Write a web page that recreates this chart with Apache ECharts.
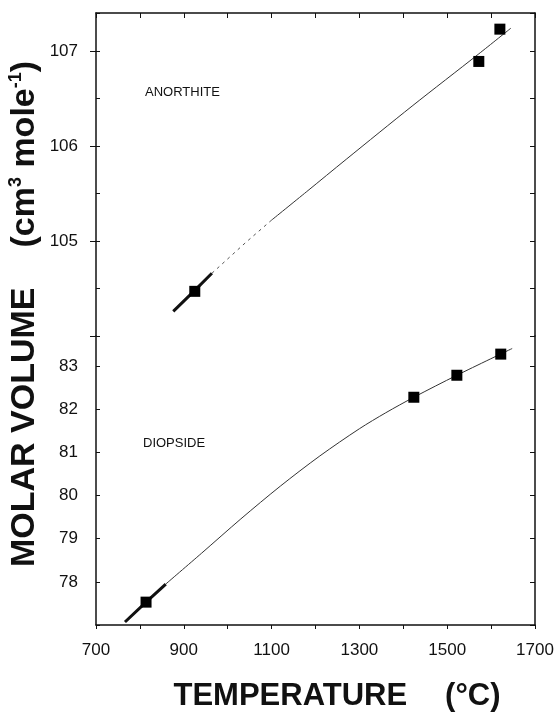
<!DOCTYPE html>
<html>
<head>
<meta charset="utf-8">
<script src="https://cdn.jsdelivr.net/npm/echarts@6/dist/echarts.min.js"></script>
<style>
html,body{margin:0;padding:0;background:#fff;}
#chart{width:559px;height:713px;}
</style>
</head>
<body>
<div id="chart"></div>
<script>
// ---- data (temperature °C, molar volume cm3/mol) ----
const anorthitePoints = [[925, 104.47], [1572, 106.89], [1620, 107.23]];
const anorthiteThick = [[876, 104.26], [925, 104.48], [964, 104.66]];
const anorthiteFaint = [[964, 104.66], [1040, 104.98], [1100, 105.22]];
const anorthiteFit = [[1100, 105.22], [1180, 105.52], [1270, 105.86], [1420, 106.42], [1572, 106.97], [1645, 107.24]];

const diopsidePoints = [[814, 77.53], [1424, 82.28], [1522, 82.79], [1622, 83.28]];
const diopsideThick = [[766, 77.07], [814, 77.53], [859, 77.95]];
const diopsideFit = [[859, 77.95], [940, 78.66], [1030, 79.46], [1120, 80.22], [1210, 80.92], [1300, 81.55], [1360, 81.92], [1424, 82.28], [1522, 82.79], [1648, 83.41]];

const xTicks = [700, 900, 1100, 1300, 1500, 1700];
const upperYLabels = [105, 106, 107];
const lowerYLabels = [78, 79, 80, 81, 82, 83];
const sampleNames = ['ANORTHITE', 'DIOPSIDE'];

const FONT = '"Liberation Sans", Arial, Helvetica, sans-serif';
const INK = '#111';

const chart = echarts.init(document.getElementById('chart'), null, {renderer: 'canvas'});

const baseAxisLine = {show: true, lineStyle: {color: INK, width: 1.5}};

const option = {
  animation: false,
  backgroundColor: '#fff',
  grid: [
    {left: 96, right: 24, top: 13, height: 323},
    {left: 96, right: 24, top: 336, height: 289}
  ],
  xAxis: [
    {
      type: 'value', gridIndex: 0, position: 'top', min: 700, max: 1700, interval: 100,
      axisLine: baseAxisLine,
      axisTick: {show: true, inside: true, length: 5, lineStyle: {color: INK}},
      axisLabel: {show: false}, splitLine: {show: false}
    },
    {
      type: 'value', gridIndex: 1, position: 'bottom', min: 700, max: 1700, interval: 100,
      axisLine: baseAxisLine,
      axisTick: {show: true, inside: false, length: 4, lineStyle: {color: INK}},
      axisLabel: {
        show: true, margin: 17, fontSize: 17, color: INK, fontFamily: FONT,
        formatter: v => (xTicks.indexOf(v) >= 0 ? String(v) : '')
      },
      splitLine: {show: false}
    }
  ],
  yAxis: [
    {
      type: 'value', gridIndex: 0, position: 'left', min: 104, max: 107.4, interval: 1,
      axisLine: baseAxisLine,
      axisTick: {show: true, inside: false, length: 6, lineStyle: {color: INK}},
      axisLabel: {
        show: true, margin: 18, fontSize: 17, color: INK, fontFamily: FONT,
        formatter: v => (upperYLabels.indexOf(v) >= 0 ? String(v) : ''),
        showMaxLabel: false
      },
      splitLine: {show: false}
    },
    {
      type: 'value', gridIndex: 0, position: 'left', min: 104, max: 107.4, interval: 0.5,
      axisLine: {show: false},
      axisTick: {show: true, inside: true, length: 4, lineStyle: {color: INK}},
      axisLabel: {show: false}, splitLine: {show: false}
    },
    {
      type: 'value', gridIndex: 0, position: 'right', min: 104, max: 107.4, interval: 0.5,
      axisLine: baseAxisLine,
      axisTick: {show: true, inside: true, length: 5, lineStyle: {color: INK}},
      axisLabel: {show: false}, splitLine: {show: false}
    },
    {
      type: 'value', gridIndex: 1, position: 'left', min: 77, max: 83.7, interval: 1,
      axisLine: baseAxisLine,
      axisTick: {show: true, inside: true, length: 4, lineStyle: {color: INK}},
      axisLabel: {
        show: true, margin: 18, fontSize: 17, color: INK, fontFamily: FONT,
        formatter: v => (lowerYLabels.indexOf(v) >= 0 ? String(v) : ''),
        showMaxLabel: false
      },
      splitLine: {show: false}
    },
    {
      type: 'value', gridIndex: 1, position: 'right', min: 77, max: 83.7, interval: 1,
      axisLine: baseAxisLine,
      axisTick: {show: true, inside: true, length: 5, lineStyle: {color: INK}},
      axisLabel: {show: false}, splitLine: {show: false}
    }
  ],
  series: [
    {type: 'line', xAxisIndex: 0, yAxisIndex: 0, data: anorthiteThick, showSymbol: false, symbol: 'none',
     lineStyle: {color: INK, width: 3}, z: 3},
    {type: 'line', xAxisIndex: 0, yAxisIndex: 0, data: anorthiteFaint, showSymbol: false, symbol: 'none',
     lineStyle: {color: '#555', width: 1, type: [3, 4]}, z: 2},
    {type: 'line', xAxisIndex: 0, yAxisIndex: 0, data: anorthiteFit, showSymbol: false, symbol: 'none', smooth: 0.3,
     lineStyle: {color: '#333', width: 1}, z: 2},
    {type: 'scatter', xAxisIndex: 0, yAxisIndex: 0, data: anorthitePoints, symbol: 'rect', symbolSize: 11,
     itemStyle: {color: '#000', opacity: 1}, z: 4},
    {type: 'line', xAxisIndex: 1, yAxisIndex: 3, data: diopsideThick, showSymbol: false, symbol: 'none',
     lineStyle: {color: INK, width: 3}, z: 3},
    {type: 'line', xAxisIndex: 1, yAxisIndex: 3, data: diopsideFit, showSymbol: false, symbol: 'none',
     smooth: 0.3,
     lineStyle: {color: '#333', width: 1}, z: 2},
    {type: 'scatter', xAxisIndex: 1, yAxisIndex: 3, data: diopsidePoints, symbol: 'rect', symbolSize: 11,
     itemStyle: {color: '#000', opacity: 1}, z: 4}
  ],
  graphic: [
    {type: 'text', left: 145, top: 86, silent: true,
     style: {text: sampleNames[0], fontSize: 13, fontFamily: FONT, fill: INK}},
    {type: 'text', left: 143, top: 437, silent: true,
     style: {text: sampleNames[1], fontSize: 13, fontFamily: FONT, fill: INK}},
    {type: 'text', x: 337, y: 696, silent: true,
     style: {
       text: '{t|TEMPERATURE}{g|}{t|(°C)}',
       align: 'center', verticalAlign: 'middle',
       rich: {
         t: {fontSize: 31, fontWeight: 'bold', fontFamily: FONT, fill: INK},
         g: {width: 38}
       }
     }},
    {type: 'text', x: 25, y: 314, rotation: Math.PI / 2, silent: true,
     style: {
       text: '{t|MOLAR VOLUME}{g|}{t|(cm}{s|3}{t| mole}{s|-1}{t|)}',
       align: 'center', verticalAlign: 'middle',
       rich: {
         t: {fontSize: 34, fontWeight: 'bold', fontFamily: FONT, fill: INK, lineHeight: 36},
         s: {fontSize: 18, fontWeight: 'bold', fontFamily: FONT, fill: INK, verticalAlign: 'top', lineHeight: 36},
         g: {width: 40}
       }
     }}
  ]
};

chart.setOption(option);
</script>
</body>
</html>
